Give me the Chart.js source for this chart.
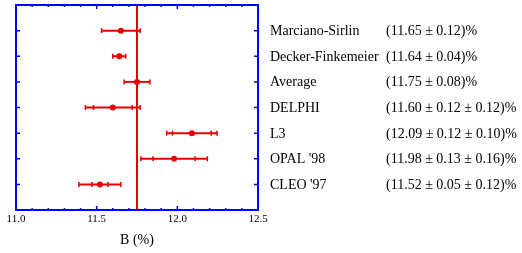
<!DOCTYPE html>
<html>
<head>
<meta charset="utf-8">
<script src="https://cdn.jsdelivr.net/npm/chart.js@4/dist/chart.umd.min.js"></script>
<style>
  body { margin: 0; background: #fff; }
  canvas { display: block; }
</style>
</head>
<body>
<canvas id="chart" width="522" height="253"></canvas>
<script>
const names = ["Marciano-Sirlin", "Decker-Finkemeier", "Average", "DELPHI", "L3", "OPAL '98", "CLEO '97"];
const values = [11.65, 11.64, 11.75, 11.60, 12.09, 11.98, 11.52];
const statErr = [0.12, 0.04, 0.08, 0.12, 0.12, 0.13, 0.05];
const systErr = [null, null, null, 0.12, 0.10, 0.16, 0.12];
const xTicks = [11.0, 11.5, 12.0, 12.5];
const averageValue = 11.75;

const red = "rgb(228,0,0)";
const blue = "#0000ff";
const serif = "'Liberation Serif', 'DejaVu Serif', serif";

// error bars, frame, tick marks and the text on the right
const forestPlugin = {
  id: "forest",
  beforeDatasetsDraw(chart) {
    const ctx = chart.ctx;
    const xs = chart.scales.x, ys = chart.scales.y;
    ctx.save();
    ctx.strokeStyle = red;
    values.forEach((v, i) => {
      const y = ys.getPixelForValue(i + 1);
      const s = statErr[i], sy = systErr[i];
      const tot = sy ? Math.sqrt(s * s + sy * sy) : s;
      const x0 = xs.getPixelForValue(v - tot), x1 = xs.getPixelForValue(v + tot);
      ctx.lineWidth = 2;
      ctx.beginPath();
      ctx.moveTo(x0, y); ctx.lineTo(x1, y);
      ctx.stroke();
      const caps = [x0, x1];
      if (sy) caps.push(xs.getPixelForValue(v - s), xs.getPixelForValue(v + s));
      ctx.lineWidth = 1.5;
      caps.forEach(cx => {
        ctx.beginPath();
        ctx.moveTo(cx, y - 2.5); ctx.lineTo(cx, y + 2.5);
        ctx.stroke();
      });
    });
    ctx.restore();
  },
  afterDraw(chart) {
    const ctx = chart.ctx;
    const a = chart.chartArea;
    const xs = chart.scales.x, ys = chart.scales.y;
    ctx.save();
    ctx.strokeStyle = blue;
    ctx.lineWidth = 1.5;
    // minor ticks every 0.1 on top and bottom
    for (let k = 0; k <= 15; k++) {
      const x = xs.getPixelForValue(11 + k * 0.1);
      const len = k % 5 === 0 ? 4 : 2;
      ctx.beginPath();
      ctx.moveTo(x, a.top); ctx.lineTo(x, a.top + len);
      ctx.moveTo(x, a.bottom); ctx.lineTo(x, a.bottom - len);
      ctx.stroke();
    }
    // row ticks left and right
    names.forEach((n, i) => {
      const y = ys.getPixelForValue(i + 1);
      ctx.beginPath();
      ctx.moveTo(a.left, y); ctx.lineTo(a.left + 4, y);
      ctx.moveTo(a.right, y); ctx.lineTo(a.right - 4, y);
      ctx.stroke();
    });
    ctx.lineWidth = 2;
    ctx.strokeRect(a.left, a.top, a.right - a.left, a.bottom - a.top);

    ctx.fillStyle = "#000";
    ctx.font = "14px " + serif;
    ctx.textBaseline = "alphabetic";
    names.forEach((n, i) => {
      const y = ys.getPixelForValue(i + 1) + 4.5;
      const s = statErr[i], sy = systErr[i];
      const txt = "(" + values[i].toFixed(2) + " \u00b1 " + s.toFixed(2) +
        (sy ? " \u00b1 " + sy.toFixed(2) : "") + ")%";
      ctx.fillText(n, 270, y);
      ctx.fillText(txt, 386, y);
    });
    ctx.restore();
  }
};

new Chart(document.getElementById("chart"), {
  type: "scatter",
  data: {
    datasets: [
      {
        data: [{ x: averageValue, y: 0 }, { x: averageValue, y: 8 }],
        showLine: true,
        borderColor: red,
        borderWidth: 2,
        pointRadius: 0
      },
      {
        data: values.map((v, i) => ({ x: v, y: i + 1 })),
        backgroundColor: red,
        borderColor: red,
        pointRadius: 3,
        borderWidth: 0
      }
    ]
  },
  options: {
    responsive: false,
    animation: false,
    layout: { padding: { left: 16, right: 264, top: 5, bottom: 0 } },
    plugins: { legend: { display: false }, tooltip: { enabled: false } },
    scales: {
      x: {
        type: "linear",
        min: 11,
        max: 12.5,
        afterBuildTicks: s => { s.ticks = xTicks.map(v => ({ value: v })); },
        afterFit: s => { s.height = 43; },
        grid: { display: false, drawTicks: false },
        border: { display: false },
        ticks: {
          color: "#000",
          padding: 3,
          maxRotation: 0,
          font: { family: serif, size: 11 },
          callback: v => Number(v).toFixed(1)
        },
        title: {
          display: true,
          text: "B (%)",
          color: "#000",
          font: { family: serif, size: 14 },
          padding: { top: 4, bottom: 4 }
        }
      },
      y: {
        type: "linear",
        min: 0,
        max: 8,
        reverse: true,
        display: false
      }
    }
  },
  plugins: [forestPlugin]
});
</script>
</body>
</html>
